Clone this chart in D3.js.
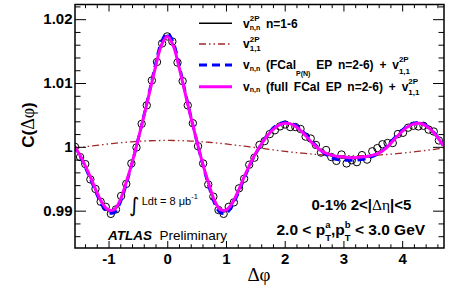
<!DOCTYPE html>
<html>
<head>
<meta charset="utf-8">
<script src="https://cdn.jsdelivr.net/npm/d3@7"></script>
<style>
  body { margin: 0; background: #fff; }
  text { white-space: pre; }
</style>
</head>
<body>
<svg id="chart" width="460" height="293"></svg>
<script>
// fit curves sampled on a common grid
let phiGrid = [-1.6,-1.5,-1.4,-1.3,-1.2,-1.1,-1.0,-0.9,-0.8,-0.7,-0.6,-0.5,-0.4,-0.3,-0.2,-0.1,
  0.0,0.1,0.2,0.3,0.4,0.5,0.6,0.7,0.8,0.9,1.0,1.1,1.2,1.3,1.4,1.5,1.6,1.7,1.8,1.9,2.0,2.1,2.2,2.3,
  2.4,2.5,2.6,2.7,2.8,2.9,3.0,3.1,3.2,3.3,3.4,3.5,3.6,3.7,3.8,3.9,4.0,4.1,4.2,4.3,4.4,4.5,4.6,4.7];

let fitAll = [1.0004,0.9989,0.9971,0.9950,0.9928,0.9909,0.9899,0.9900,0.9916,0.9943,0.9975,1.0010,1.0047,1.0086,1.0126,1.0161,
  1.0175,1.0161,1.0126,1.0086,1.0047,1.0010,0.9975,0.9943,0.9916,0.9900,0.9899,0.9909,0.9928,0.9950,0.9971,0.9989,1.0004,1.0017,1.0027,1.0034,1.0037,1.0036,1.0031,1.0023,
  1.0013,1.0003,0.9995,0.9989,0.99855,0.99835,0.99825,0.9982,0.9982,0.99827,0.99838,0.9986,0.9990,0.99965,1.0005,1.0015,1.00245,1.0032,1.0036,1.0037,1.0033,1.00255,1.0015,1.00015];

let fitFcalPN = [1.0003,0.9988,0.9969,0.9948,0.9926,0.9907,0.9897,0.9897,0.9913,0.9941,0.9974,1.0010,1.0048,1.0088,1.0129,1.0164,
  1.0178,1.0164,1.0129,1.0088,1.0048,1.0010,0.9974,0.9941,0.9913,0.9897,0.9896,0.9907,0.9926,0.9948,0.9970,0.9988,1.0004,1.0018,1.0029,1.0036,1.0038,1.0037,1.0033,1.0025,
  1.0015,1.0005,0.9996,0.9988,0.9983,0.9980,0.9979,0.9979,0.9979,0.9980,0.9982,0.9985,0.9990,0.9997,1.0007,1.0017,1.0026,1.0033,1.0037,1.0038,1.0034,1.0026,1.0016,1.0002];

let fitFullFcal = [1.0004,0.9989,0.9971,0.9951,0.9929,0.9911,0.9901,0.9902,0.9917,0.9944,0.9975,1.0010,1.0047,1.0086,1.0125,1.0159,
  1.0173,1.0159,1.0125,1.0086,1.0047,1.0010,0.9975,0.9944,0.9917,0.9902,0.9901,0.9911,0.9929,0.9951,0.9971,0.9989,1.0004,1.0017,1.0027,1.0034,1.0037,1.0036,1.0031,1.0023,
  1.0013,1.0003,0.9995,0.9990,0.9987,0.9985,0.9984,0.9983,0.9983,0.9984,0.9985,0.9987,0.9990,0.9996,1.0005,1.0015,1.0024,1.0032,1.0036,1.0037,1.0033,1.0026,1.0015,1.0002];

let fitV11 = [0.99977,0.99989,1.00000,1.00012,1.00023,1.00034,1.00045,1.00055,1.00064,1.00072,1.00079,1.00085,1.00091,1.00095,1.00098,1.00099,
  1.00100,1.00099,1.00098,1.00095,1.00091,1.00085,1.00079,1.00072,1.00064,1.00055,1.00045,1.00034,1.00023,1.00012,1.00000,0.99989,0.99977,0.99965,0.99953,0.99941,0.99930,0.99919,0.99909,0.99900,
  0.99892,0.99884,0.99877,0.99872,0.99867,0.99863,0.99861,0.99860,0.99860,0.99861,0.99864,0.99868,0.99872,0.99878,0.99885,0.99893,0.99902,0.99911,0.99921,0.99932,0.99943,0.99955,0.99967,0.99979];

// measured points
let dataPhi = [-1.571,-1.484,-1.396,-1.309,-1.222,-1.134,-1.047,-0.960,-0.873,-0.785,-0.698,-0.611,-0.524,-0.436,-0.349,-0.262,-0.175,-0.087,
  0.000,0.087,0.175,0.262,0.349,0.436,0.524,0.611,0.698,0.785,0.873,0.960,1.047,1.134,1.222,1.309,1.396,1.484,
  1.571,1.658,1.745,1.833,1.920,2.007,2.094,2.182,2.269,2.356,2.443,2.531,2.618,2.705,2.793,2.880,2.967,3.054,
  3.142,3.229,3.316,3.403,3.491,3.578,3.665,3.752,3.840,3.927,4.014,4.102,4.189,4.276,4.363,4.451,4.538,4.625];

let dataC = [1.0000,0.9984,0.9973,0.9949,0.9934,0.9914,0.9906,0.9895,0.9902,0.9923,
  0.9942,0.9974,0.9999,1.0036,1.0065,1.0104,1.0133,1.0162,1.0173,1.0165,
  1.0132,1.0103,1.0065,1.0037,1.0001,0.9974,0.9941,0.9922,0.9901,0.9895,
  0.9906,0.9913,0.9935,0.9950,0.9972,0.9983,1.0003,1.0009,1.0020,1.0026,
  1.0032,1.0035,1.0031,1.0031,1.0028,1.0016,1.0013,1.0003,0.9991,0.9995,
  0.9984,0.9978,0.9988,0.9974,0.9979,0.9976,0.9987,0.9980,0.9993,0.9998,
  1.0004,1.0006,1.0006,1.0020,1.0022,1.0030,1.0033,1.0032,1.0033,1.0027,
  1.0024,1.0010];

let xTickLabels = [-1, 0, 1, 2, 3, 4];
let yTickLabels = [0.99, 1, 1.01, 1.02];

let sans = 'Liberation Sans, Arial, Helvetica, sans-serif';
let serif = 'Liberation Serif, Times New Roman, serif';

let pLeft = 75, pRight = 444, pTop = 4.5, pBottom = 248;

let svg = d3.select('#chart');
svg.append('rect').attr('width', 460).attr('height', 293).attr('fill', '#fff');

let x = d3.scaleLinear().domain([-Math.PI / 2, 3 * Math.PI / 2]).range([pLeft, pRight]);
let y = d3.scaleLinear().domain([0.98415, 1.0223]).range([pBottom, pTop]);

svg.append('clipPath').attr('id', 'plot')
  .append('rect').attr('x', pLeft).attr('y', pTop).attr('width', pRight - pLeft).attr('height', pBottom - pTop);

let plot = svg.append('g').attr('clip-path', 'url(#plot)');

// data circles
plot.selectAll('circle.pt')
  .data(dataPhi.map((p, i) => [p, dataC[i]]))
  .enter().append('circle')
  .attr('class', 'pt')
  .attr('cx', d => x(d[0]))
  .attr('cy', d => y(d[1]))
  .attr('r', 3.7)
  .attr('fill', 'none')
  .attr('stroke', '#000')
  .attr('stroke-width', 1);

function curve(vals) {
  return d3.line()
    .x((d, i) => x(phiGrid[i]))
    .y(d => y(d))
    .curve(d3.curveCatmullRom)(vals);
}

let styles = {
  all: {color: '#000', width: 1.5, dash: null},
  v11: {color: '#a02828', width: 1.3, dash: '7,3,1.5,3,1.5,3'},
  pn: {color: '#0000ff', width: 3, dash: '8,5'},
  full: {color: '#ff00ff', width: 3, dash: null}
};

function drawLine(vals, st) {
  plot.append('path')
    .attr('d', curve(vals))
    .attr('fill', 'none')
    .attr('stroke', st.color)
    .attr('stroke-width', st.width)
    .attr('stroke-dasharray', st.dash);
}

drawLine(fitAll, styles.all);
drawLine(fitV11, styles.v11);
drawLine(fitFcalPN, styles.pn);
drawLine(fitFullFcal, styles.full);

// axes
let fmtX = d => d < 0 ? '-' + (-d) : String(d);
let xMinor = d3.range(-1.4, 4.65, 0.2).filter(v => Math.abs(v - Math.round(v)) > 0.01);
let yMinor = d3.range(0.986, 1.0225, 0.002).filter(v => Math.abs(v * 100 - Math.round(v * 100)) > 0.01);

function styleAxis(g) {
  g.select('.domain').remove();
  g.attr('font-family', sans).attr('font-size', 15).attr('font-weight', 'bold');
  g.selectAll('line').attr('stroke-width', 1);
}

svg.append('g').attr('transform', `translate(0,${pBottom})`)
  .call(d3.axisBottom(x).tickValues(xTickLabels).tickSize(-7).tickPadding(5).tickFormat(fmtX)).call(styleAxis);
svg.append('g').attr('transform', `translate(0,${pBottom})`)
  .call(d3.axisBottom(x).tickValues(xMinor).tickSize(-3.7).tickFormat('')).call(styleAxis);
svg.append('g').attr('transform', `translate(0,${pTop})`)
  .call(d3.axisTop(x).tickValues(xTickLabels).tickSize(-7).tickFormat('')).call(styleAxis);
svg.append('g').attr('transform', `translate(0,${pTop})`)
  .call(d3.axisTop(x).tickValues(xMinor).tickSize(-3.7).tickFormat('')).call(styleAxis);

svg.append('g').attr('transform', `translate(${pLeft},0)`)
  .call(d3.axisLeft(y).tickValues(yTickLabels).tickSize(-11).tickPadding(2.5).tickFormat(d => String(d))).call(styleAxis);
svg.append('g').attr('transform', `translate(${pLeft},0)`)
  .call(d3.axisLeft(y).tickValues(yMinor).tickSize(-5.5).tickFormat('')).call(styleAxis);
svg.append('g').attr('transform', `translate(${pRight},0)`)
  .call(d3.axisRight(y).tickValues(yTickLabels).tickSize(-11).tickFormat('')).call(styleAxis);
svg.append('g').attr('transform', `translate(${pRight},0)`)
  .call(d3.axisRight(y).tickValues(yMinor).tickSize(-5.5).tickFormat('')).call(styleAxis);

svg.append('rect')
  .attr('x', pLeft).attr('y', pTop).attr('width', pRight - pLeft).attr('height', pBottom - pTop)
  .attr('fill', 'none').attr('stroke', '#000').attr('stroke-width', 1.5);

// axis titles
svg.append('text').attr('x', 259).attr('y', 281).attr('text-anchor', 'middle')
  .attr('font-family', serif).attr('font-size', 19).text('Δφ');

let yt = svg.append('text').attr('transform', 'translate(34,125) rotate(-90)')
  .attr('text-anchor', 'middle').attr('font-family', sans).attr('font-size', 17);
yt.append('tspan').attr('font-weight', 'bold').text('C(');
yt.append('tspan').attr('font-family', serif).attr('font-size', 18).text('Δφ');
yt.append('tspan').attr('font-weight', 'bold').text(')');

// rich text helper: items placed one after another, stacked items share the start of the previous one
function rich(x0, y0, items, base) {
  let cx = x0, lastStart = x0, lastEnd = x0;
  items.forEach(it => {
    let start = it.stack ? lastStart : cx;
    let t = svg.append('text')
      .attr('x', start).attr('y', y0 + (it.dy || 0))
      .attr('font-family', it.font || base.font)
      .attr('font-size', it.size || base.size)
      .attr('font-weight', it.weight || base.weight)
      .attr('font-style', it.style || 'normal')
      .attr('word-spacing', base.ws || 0)
      .text(it.t);
    let end = start + t.node().getComputedTextLength();
    if (it.stack) {
      cx = Math.max(lastEnd, end);
      lastEnd = cx;
    } else {
      lastStart = start;
      lastEnd = end;
      cx = end;
    }
  });
  return cx;
}

// legend
let legX0 = 199, legX1 = 232, legText = 243;
let legY = [23.3, 44, 65, 86.7];
[styles.all, styles.v11, styles.pn, styles.full].forEach((st, i) => {
  svg.append('line')
    .attr('x1', legX0).attr('x2', legX1).attr('y1', legY[i]).attr('y2', legY[i])
    .attr('stroke', st.color).attr('stroke-width', st.width).attr('stroke-dasharray', st.dash);
});

let lb = {font: sans, size: 12, weight: 'bold', ws: 2.5};
let sup = 8, sub = 7;
rich(legText, legY[0] + 4.2, [
  {t: 'v'}, {t: '2P', size: sup, dy: -6.5}, {t: 'n,n', size: sub, dy: 2.5, stack: true}, {t: ' n=1-6'}
], lb);
rich(legText, legY[1] + 4.2, [
  {t: 'v'}, {t: '2P', size: sup, dy: -6.5}, {t: '1,1', size: sup, dy: 2.5, stack: true}
], lb);
rich(legText, legY[2] + 4.2, [
  {t: 'v'}, {t: 'n,n', size: sub, dy: 1.5}, {t: ' (FCal'}, {t: 'P(N)', size: sub, dy: 7},
  {t: ' EP n=2-6) + v'}, {t: '2P', size: sup, dy: -7}, {t: '1,1', size: sup, dy: 4.5, stack: true}
], lb);
rich(legText, legY[3] + 4.2, [
  {t: 'v'}, {t: 'n,n', size: sub, dy: 1.5}, {t: ' (full FCal EP n=2-6) + v'},
  {t: '2P', size: sup, dy: -7}, {t: '1,1', size: sup, dy: 4.5, stack: true}
], lb);

// annotations
svg.append('text').attr('x', 129).attr('y', 212).attr('font-family', 'DejaVu Sans')
  .attr('font-size', 20).text('∫');
rich(141.7, 205, [
  {t: 'Ldt = 8 μb'}, {t: '-1', size: 7.5, dy: -6}
], {font: sans, size: 11, weight: 'normal'});

rich(108, 239.5, [
  {t: 'ATLAS', weight: 'bold', style: 'italic'}, {t: '  Preliminary', weight: 'normal'}
], {font: sans, size: 13.5, weight: 'normal'});

rich(311.5, 210, [
  {t: '0-1% 2<|'}, {t: 'Δη', font: serif, weight: 'normal', size: 15.5}, {t: '|<5'}
], {font: sans, size: 15, weight: 'bold'});

rich(276.5, 235, [
  {t: '2.0 < p'}, {t: 'a', size: 9.5, dy: -7}, {t: 'T', size: 9.5, dy: 6, stack: true},
  {t: ',p'}, {t: 'b', size: 9.5, dy: -7}, {t: 'T', size: 9.5, dy: 6, stack: true},
  {t: ' < 3.0 GeV'}
], {font: sans, size: 15.5, weight: 'bold'});
</script>
</body>
</html>
